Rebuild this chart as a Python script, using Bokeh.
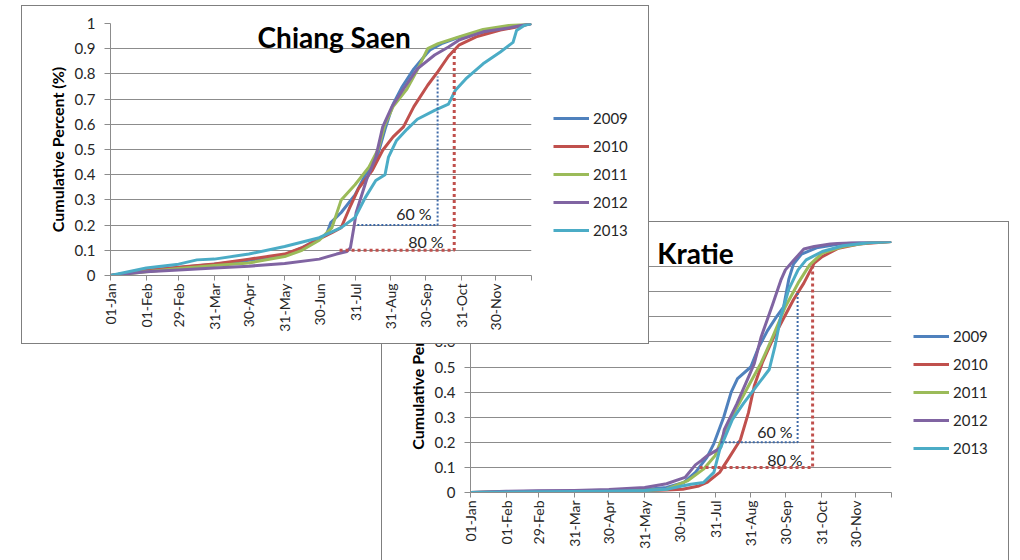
from bokeh.plotting import figure
from bokeh.models import Range1d, FixedTicker, NumeralTickFormatter, Legend, LegendItem, Label
from bokeh.embed import file_html
from bokeh.resources import INLINE
import math

# ---------------- data ----------------
MONTH_TICKS = [0, 31, 59, 90, 120, 151, 181, 212, 243, 273, 304, 334, 365]
MONTH_LABELS = ["01-Jan", "01-Feb", "29-Feb", "31-Mar", "30-Apr", "31-May", "30-Jun",
                "31-Jul", "31-Aug", "30-Sep", "31-Oct", "30-Nov", ""]
Y_TICKS = [0, 0.1, 0.2, 0.3, 0.4, 0.5, 0.6, 0.7, 0.8, 0.9, 1.0]
YEARS = ["2009", "2010", "2011", "2012", "2013"]
COLORS = ["#4F81BD", "#C0504D", "#9BBB59", "#8064A2", "#4BACC6"]

# Chiang Saen (day of year, cumulative fraction)
cs_2009_day = [0, 31, 59, 90, 120, 151, 166, 181, 187, 191, 200, 212, 221, 229, 233, 238, 245, 253, 263, 274, 277, 287, 302, 323, 347, 365]
cs_2009_val = [0, 0.02, 0.032, 0.045, 0.06, 0.082, 0.11, 0.148, 0.16, 0.21, 0.25, 0.32, 0.40, 0.44, 0.50, 0.58, 0.68, 0.75, 0.82, 0.88, 0.895, 0.92, 0.945, 0.965, 0.985, 1.0]
cs_2010_day = [0, 31, 59, 90, 120, 151, 166, 181, 192, 200, 207, 215, 227, 236, 245, 254, 263, 275, 284, 293, 302, 317, 338, 353, 365]
cs_2010_val = [0, 0.02, 0.033, 0.046, 0.065, 0.085, 0.11, 0.145, 0.17, 0.19, 0.265, 0.345, 0.417, 0.497, 0.55, 0.59, 0.67, 0.755, 0.81, 0.87, 0.914, 0.947, 0.974, 0.987, 1.0]
cs_2011_day = [0, 31, 59, 90, 120, 151, 166, 181, 192, 200, 212, 224, 232, 238, 245, 257, 266, 275, 284, 302, 323, 347, 365]
cs_2011_val = [0, 0.015, 0.028, 0.04, 0.05, 0.075, 0.10, 0.14, 0.19, 0.30, 0.36, 0.43, 0.50, 0.60, 0.67, 0.74, 0.815, 0.90, 0.92, 0.947, 0.976, 0.993, 1.0]
cs_2012_day = [0, 31, 59, 90, 120, 151, 181, 196, 205, 208, 211, 213, 222, 230, 236, 244, 254, 266, 281, 293, 302, 323, 347, 365]
cs_2012_val = [0, 0.015, 0.022, 0.03, 0.037, 0.048, 0.065, 0.085, 0.095, 0.11, 0.19, 0.25, 0.38, 0.47, 0.59, 0.67, 0.74, 0.82, 0.875, 0.907, 0.934, 0.967, 0.984, 1.0]
cs_2013_day = [0, 31, 59, 75, 90, 120, 151, 181, 200, 212, 221, 230, 238, 241, 248, 257, 266, 281, 293, 299, 308, 323, 338, 349, 352, 359, 365]
cs_2013_val = [0, 0.03, 0.045, 0.062, 0.065, 0.085, 0.115, 0.15, 0.19, 0.23, 0.31, 0.377, 0.40, 0.47, 0.536, 0.58, 0.62, 0.655, 0.68, 0.735, 0.78, 0.84, 0.887, 0.925, 0.972, 0.993, 1.0]

# Kratie
kr_2009_day = [0, 31, 59, 90, 120, 151, 170, 185, 195, 205, 211, 219.5, 226, 231.5, 243, 250, 257.5, 266, 271.5, 276, 280, 287, 300, 320, 340, 365]
kr_2009_val = [0, 0.003, 0.005, 0.006, 0.008, 0.012, 0.02, 0.04, 0.08, 0.14, 0.195, 0.30, 0.40, 0.454, 0.50, 0.58, 0.645, 0.705, 0.74, 0.85, 0.91, 0.95, 0.975, 0.99, 0.997, 1.0]
kr_2010_day = [0, 31, 59, 90, 120, 151, 170, 184, 198, 205, 216, 223, 234, 241, 246, 253, 262, 271, 280, 289, 298, 305, 319, 337, 365]
kr_2010_val = [0, 0.002, 0.003, 0.004, 0.005, 0.007, 0.01, 0.013, 0.026, 0.04, 0.08, 0.13, 0.21, 0.318, 0.424, 0.517, 0.61, 0.69, 0.768, 0.834, 0.914, 0.94, 0.973, 0.99, 1.0]
kr_2011_day = [0, 31, 59, 90, 120, 151, 170, 188, 202, 212, 221, 230, 241, 252, 262, 273, 284, 294, 305, 323, 345, 365]
kr_2011_val = [0, 0.002, 0.003, 0.004, 0.006, 0.008, 0.013, 0.046, 0.093, 0.146, 0.25, 0.33, 0.424, 0.517, 0.62, 0.74, 0.834, 0.907, 0.954, 0.98, 0.995, 1.0]
kr_2012_day = [0, 31, 59, 90, 120, 151, 170, 186, 195, 200, 205, 214, 217, 220, 231, 241, 246, 252, 262, 269, 273, 280, 289, 298, 312, 333, 365]
kr_2012_val = [0, 0.005, 0.007, 0.008, 0.012, 0.02, 0.035, 0.06, 0.11, 0.127, 0.146, 0.17, 0.18, 0.25, 0.354, 0.46, 0.513, 0.62, 0.75, 0.845, 0.887, 0.924, 0.97, 0.98, 0.99, 0.997, 1.0]
kr_2013_day = [0, 31, 59, 90, 120, 151, 170, 191, 202, 211, 216, 227, 237, 248, 259, 264, 269, 276, 284, 291, 305, 323, 345, 365]
kr_2013_val = [0, 0.002, 0.003, 0.004, 0.005, 0.008, 0.013, 0.033, 0.04, 0.08, 0.17, 0.29, 0.357, 0.424, 0.49, 0.583, 0.70, 0.81, 0.887, 0.927, 0.96, 0.983, 0.995, 1.0]

# 60 % / 80 % guide lines
cs60_x = [214, 283.6, 283.6]
cs60_y = [0.2, 0.2, 0.79]
cs80_x = [198.6, 298, 298]
cs80_y = [0.1, 0.1, 0.9]
kr60_x = [217, 283.6, 283.6]
kr60_y = [0.2, 0.2, 0.8]
kr80_x = [198.6, 296.6, 296.6]
kr80_y = [0.1, 0.1, 0.9]

FONT = "Lato"
GRID = "#8c8c8c"
TEXT = "#262626"


def make_chart(title, title_xy, series, g60, g80, lab60, lab80, left, top, fw, fh, borders):
    bl, br, bt, bb = borders
    p = figure(frame_width=fw, frame_height=fh, x_range=Range1d(0, 365), y_range=Range1d(0, 1),
               output_backend="svg", toolbar_location=None,
               min_border_left=bl, min_border_right=br, min_border_top=bt, min_border_bottom=bb,
               background_fill_color="white", border_fill_color="white")
    p.outline_line_color = None
    p.xgrid.visible = False
    p.ygrid.ticker = FixedTicker(ticks=Y_TICKS)
    p.ygrid.grid_line_color = GRID
    p.ygrid.grid_line_width = 1

    xa = p.xaxis[0]
    xa.ticker = FixedTicker(ticks=MONTH_TICKS)
    xa.major_label_overrides = {t: l for t, l in zip(MONTH_TICKS, MONTH_LABELS)}
    xa.major_label_orientation = math.pi / 2
    xa.major_label_text_font = FONT
    xa.major_label_text_font_size = "14px"
    xa.major_label_text_color = TEXT
    xa.major_label_standoff = 3
    xa.major_tick_out = 5
    xa.major_tick_in = 0
    xa.minor_tick_line_color = None
    xa.axis_line_color = GRID
    xa.major_tick_line_color = GRID

    ya = p.yaxis[0]
    ya.ticker = FixedTicker(ticks=Y_TICKS)
    ya.formatter = NumeralTickFormatter(format="0.[0]")
    ya.major_label_text_font = FONT
    ya.major_label_text_font_size = "15px"
    ya.major_label_text_color = TEXT
    ya.major_label_standoff = 9
    ya.major_tick_out = 6
    ya.major_tick_in = 0
    ya.minor_tick_line_color = None
    ya.axis_line_color = GRID
    ya.major_tick_line_color = GRID
    ya.axis_label = "Cumulative Percent (%)"
    ya.axis_label_text_font = FONT
    ya.axis_label_text_font_style = "bold"
    ya.axis_label_text_font_size = "16px"
    ya.axis_label_text_color = "black"
    ya.axis_label_standoff = 5

    items = []
    for (d, v), yr, c in zip(series, YEARS, COLORS):
        r = p.line(d, v, line_color=c, line_width=3, line_join="round")
        items.append(LegendItem(label=yr, renderers=[r]))

    p.line(g60[0], g60[1], line_color="#3F6AA8", line_width=2, line_dash="2 2")
    p.line(g80[0], g80[1], line_color="#C0504D", line_width=3, line_dash="3 3")

    p.add_layout(Label(x=lab60[0], y=lab60[1], text="60 %", text_align="right", text_baseline="middle",
                       text_font=FONT, text_font_size="16px", text_color=TEXT))
    p.add_layout(Label(x=lab80[0], y=lab80[1], text="80 %", text_align="right", text_baseline="middle",
                       text_font=FONT, text_font_size="16px", text_color=TEXT))
    p.add_layout(Label(x=title_xy[0], y=title_xy[1], text=title, text_align="left", text_baseline="middle",
                       text_font=FONT, text_font_style="bold", text_font_size="28px", text_color="black"))

    leg = Legend(items=items, location="top_left")
    leg.orientation = "vertical"
    leg.title = " "
    leg.title_text_font_size = "10px"
    leg.title_standoff = 52
    leg.label_text_font = FONT
    leg.label_text_font_size = "15px"
    leg.label_text_color = TEXT
    leg.glyph_width = 36
    leg.glyph_height = 20
    leg.label_height = 20
    leg.label_standoff = 4
    leg.spacing = 8
    leg.padding = 0
    leg.margin = 22
    leg.border_line_color = None
    leg.background_fill_alpha = 0
    p.add_layout(leg, "right")

    w = bl + fw + br
    h = bt + fh + bb
    p.styles = {"position": "absolute", "left": f"{left}px", "top": f"{top}px",
                "width": f"{w}px", "height": f"{h}px", "overflow": "hidden",
                "outline": "1px solid #7f7f7f", "background-color": "white"}
    return p


p1 = make_chart("Chiang Saen", (127.5, 0.948),
                [(cs_2009_day, cs_2009_val), (cs_2010_day, cs_2010_val), (cs_2011_day, cs_2011_val),
                 (cs_2012_day, cs_2012_val), (cs_2013_day, cs_2013_val)],
                (cs60_x, cs60_y), (cs80_x, cs80_y), (278.4, 0.246), (288.8, 0.135),
                22, 6, 421, 252, (88, 117, 17, 68))

p2 = make_chart("Kratie", (162, 0.956),
                [(kr_2009_day, kr_2009_val), (kr_2010_day, kr_2010_val), (kr_2011_day, kr_2011_val),
                 (kr_2012_day, kr_2012_val), (kr_2013_day, kr_2013_val)],
                (kr60_x, kr60_y), (kr80_x, kr80_y), (279.3, 0.243), (288, 0.131),
                382, 222, 421, 251, (88, 117, 19, 68))

p1.styles = dict(p1.styles, **{"z-index": "2"})
p2.styles = dict(p2.styles, **{"z-index": "1"})

open("out.html", "w").write(file_html([p2, p1], INLINE))
